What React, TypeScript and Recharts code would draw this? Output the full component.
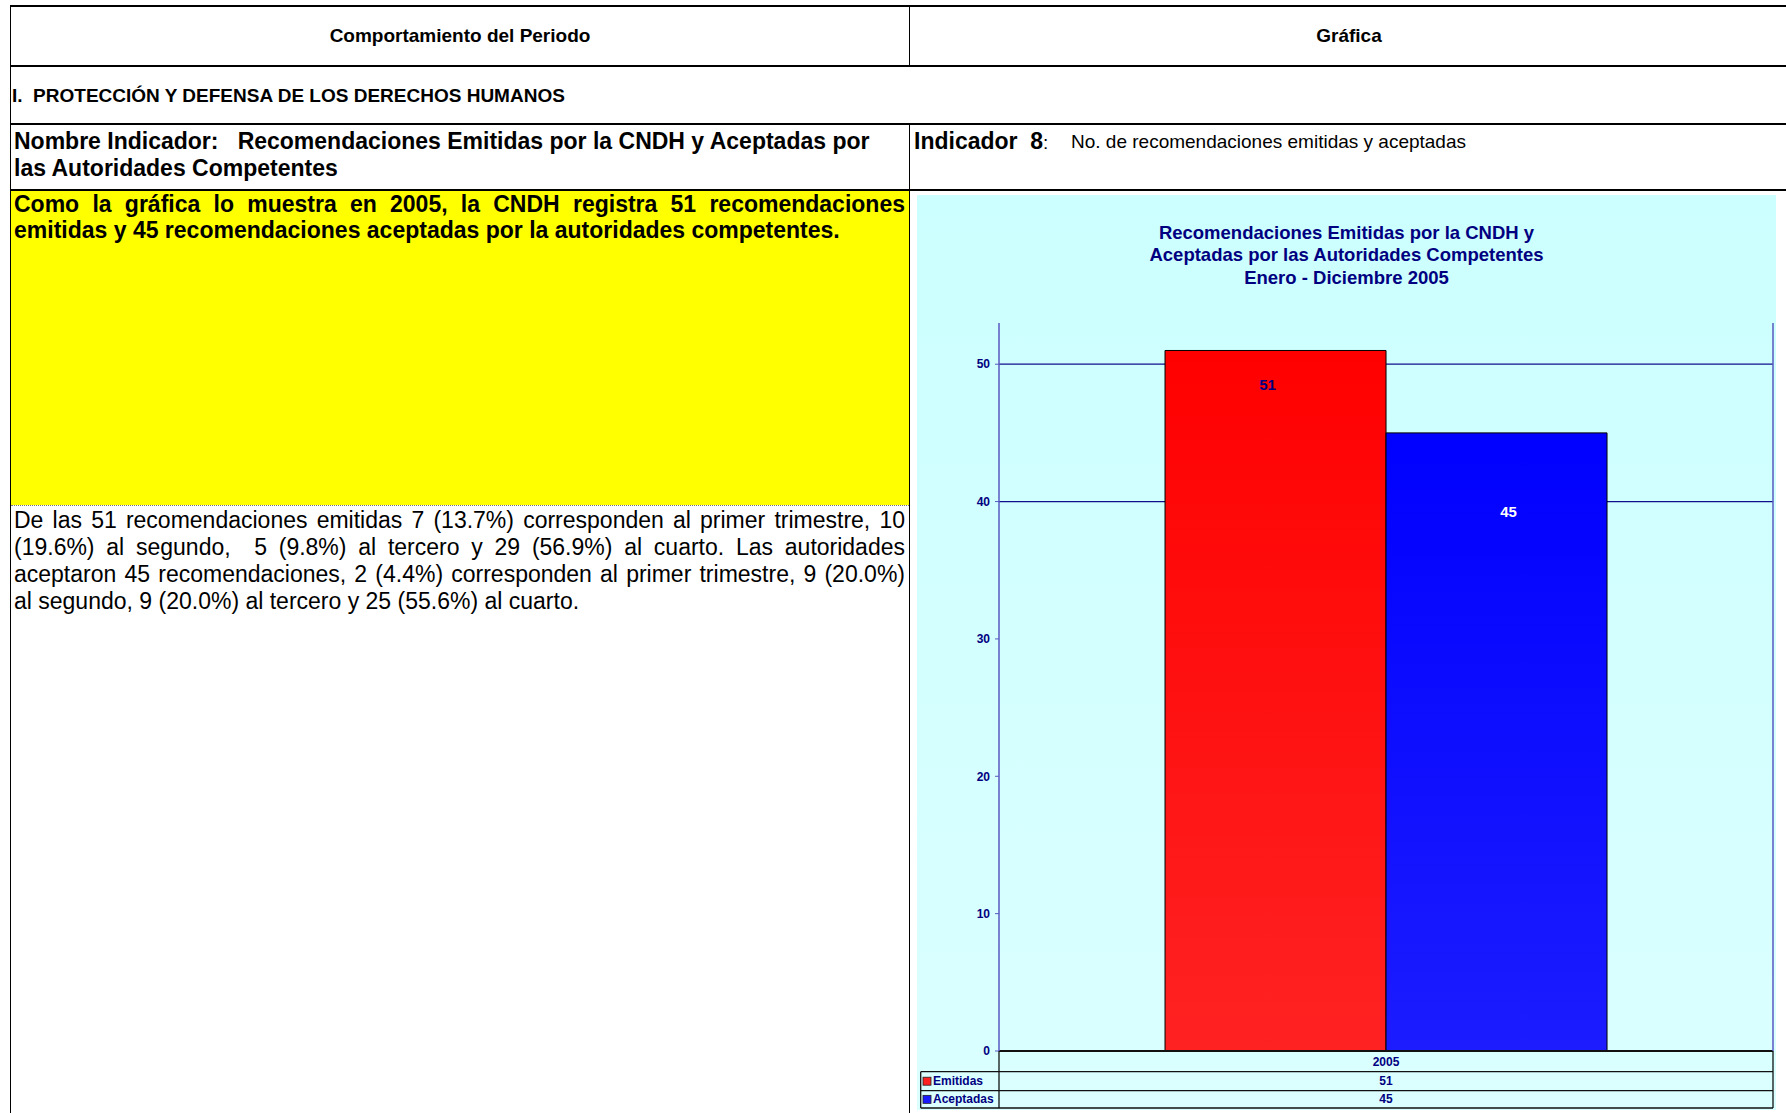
import React from 'react';
import { BarChart, Bar, XAxis, YAxis, CartesianGrid, LabelList } from 'recharts';

// values
const years = ['2005'];
const emitidas = [51];
const aceptadas = [45];
const seriesNames = ['Emitidas', 'Aceptadas'];
const yTicks = [0, 10, 20, 30, 40, 50];
const gridValues = [40, 50];

const data = years.map((year, i) => ({ year, emitidas: emitidas[i], aceptadas: aceptadas[i] }));

const NAVY = '#000080';
const FONT = "'Liberation Sans', Arial, sans-serif";

const CHART_W = 859;
const CHART_H = 915;
const PLOT_LEFT = 82;
const PLOT_RIGHT = CHART_W - 3;

// data table drawn under the x axis (as in the Excel chart)
function TableTick(props: any) {
  const { x, y, payload } = props;
  const rows = [
    { name: seriesNames[0], color: '#ff2020', values: emitidas },
    { name: seriesNames[1], color: '#1a1aff', values: aceptadas },
  ];
  const idx = years.indexOf(payload.value);
  const r1 = y + 20.7;
  const r2 = y + 39.7;
  const r3 = y + 57;
  const lineStyle = { stroke: '#111', strokeWidth: 1.3 };
  return (
    <g>
      <line x1={PLOT_LEFT} x2={PLOT_LEFT} y1={y} y2={r3} {...lineStyle} />
      <line x1={PLOT_RIGHT} x2={PLOT_RIGHT} y1={y} y2={r3} {...lineStyle} />
      <line x1={3.7} x2={3.7} y1={r1} y2={r3} {...lineStyle} />
      <line x1={3.7} x2={PLOT_RIGHT} y1={r1} y2={r1} {...lineStyle} />
      <line x1={3.7} x2={PLOT_RIGHT} y1={r2} y2={r2} {...lineStyle} />
      <line x1={3.7} x2={PLOT_RIGHT} y1={r3} y2={r3} {...lineStyle} />
      <text x={x} y={y + 10.5} textAnchor="middle" dominantBaseline="central"
        fill={NAVY} fontSize={12} fontWeight="bold">{payload.value}</text>
      {rows.map((row, i) => {
        const cy = i === 0 ? (r1 + r2) / 2 : (r2 + r3) / 2;
        return (
          <g key={row.name}>
            <rect x={6} y={cy - 4} width={8} height={8} fill={row.color} stroke="#222" strokeWidth={0.8} />
            <text x={16} y={cy} dominantBaseline="central" fill={NAVY} fontSize={12} fontWeight="bold">{row.name}</text>
            <text x={x} y={cy} textAnchor="middle" dominantBaseline="central"
              fill={NAVY} fontSize={12} fontWeight="bold">{row.values[idx]}</text>
          </g>
        );
      })}
    </g>
  );
}

function makeLabel(color: string, dx: number, dy: number) {
  return (p: any) => (
    <text x={p.x + p.width / 2 + dx} y={p.y + dy} textAnchor="middle" dominantBaseline="central"
      fill={color} fontSize={15} fontWeight="bold">{p.value}</text>
  );
}

function Chart() {
  return (
    <BarChart width={CHART_W} height={CHART_H} data={data}
      margin={{ top: 128, right: 0, left: 0, bottom: 2 }}
      barCategoryGap="21.45%" barGap={0}>
      <defs>
        <linearGradient id="gRed" x1="0" y1="0" x2="0" y2="1">
          <stop offset="0%" stopColor="#ff0000" />
          <stop offset="100%" stopColor="#ff2222" />
        </linearGradient>
        <linearGradient id="gBlue" x1="0" y1="0" x2="0" y2="1">
          <stop offset="0%" stopColor="#0000ff" />
          <stop offset="100%" stopColor="#1c1cff" />
        </linearGradient>
      </defs>
      <CartesianGrid vertical={false} horizontalValues={gridValues} stroke="#10108a" strokeWidth={1.3} />
      <XAxis dataKey="year" height={57} tickSize={0} tickMargin={0} tickLine={false}
        axisLine={{ stroke: '#111', strokeWidth: 2 }} tick={<TableTick />} />
      <YAxis width={PLOT_LEFT} domain={[0, 53]} ticks={yTicks} tickSize={4} tickMargin={5}
        axisLine={{ stroke: '#5858c0', strokeWidth: 1.5 }} tickLine={{ stroke: '#5858c0' }}
        tick={{ fill: NAVY, fontSize: 12, fontWeight: 'bold' }} />
      <YAxis yAxisId="r" orientation="right" width={3} domain={[0, 53]} tick={false} tickLine={false}
        axisLine={{ stroke: '#5858c0', strokeWidth: 1.5 }} />
      <Bar dataKey="emitidas" name={seriesNames[0]} fill="url(#gRed)" stroke="#000" strokeWidth={1}
        isAnimationActive={false}>
        <LabelList dataKey="emitidas" content={makeLabel(NAVY, -8, 34)} />
      </Bar>
      <Bar dataKey="aceptadas" name={seriesNames[1]} fill="url(#gBlue)" stroke="#000" strokeWidth={1}
        isAnimationActive={false}>
        <LabelList dataKey="aceptadas" content={makeLabel('#ffffff', 12, 79)} />
      </Bar>
    </BarChart>
  );
}

const abs = (s: React.CSSProperties): React.CSSProperties => ({ position: 'absolute', ...s });

const yellowLines = [
  'Como la gráfica lo muestra en 2005, la CNDH registra 51 recomendaciones',
  'emitidas y 45 recomendaciones aceptadas por la autoridades competentes.',
];
const bodyLines = [
  'De las 51 recomendaciones emitidas 7 (13.7%) corresponden al primer trimestre, 10',
  '(19.6%) al segundo,  5 (9.8%) al tercero y 29 (56.9%) al cuarto. Las autoridades',
  'aceptaron 45 recomendaciones, 2 (4.4%) corresponden al primer trimestre, 9 (20.0%)',
  'al segundo, 9 (20.0%) al tercero y 25 (55.6%) al cuarto.',
];

export default function App() {
  return (
    <div style={abs({ left: 0, top: 0, width: 1786, height: 1113, background: '#fff', overflow: 'hidden', fontFamily: FONT, color: '#000' })}>
      {/* table borders */}
      <div style={abs({ left: 9.5, top: 4.5, width: 1780, height: 2, background: '#000' })} />
      <div style={abs({ left: 9.5, top: 64.5, width: 1780, height: 2, background: '#000' })} />
      <div style={abs({ left: 9.5, top: 123, width: 1780, height: 2, background: '#000' })} />
      <div style={abs({ left: 9.5, top: 188.5, width: 1780, height: 2, background: '#000' })} />
      <div style={abs({ left: 9.5, top: 4.5, width: 1.6, height: 1110, background: '#000' })} />
      <div style={abs({ left: 908.5, top: 4.5, width: 1.6, height: 61, background: '#000' })} />
      <div style={abs({ left: 908.5, top: 123, width: 1.6, height: 1000, background: '#000' })} />

      {/* header row */}
      <div style={abs({ left: 11, top: 25, width: 898, textAlign: 'center', fontSize: 19, fontWeight: 'bold', lineHeight: '22px' })}>
        Comportamiento del Periodo
      </div>
      <div style={abs({ left: 910, top: 25, width: 878, textAlign: 'center', fontSize: 19, fontWeight: 'bold', lineHeight: '22px' })}>
        Gráfica
      </div>
      <div style={abs({ left: 12, top: 85, fontSize: 19, fontWeight: 'bold', lineHeight: '22px', whiteSpace: 'pre' })}>
        {'I.  PROTECCIÓN Y DEFENSA DE LOS DERECHOS HUMANOS'}
      </div>

      {/* indicator row */}
      <div style={abs({ left: 14, top: 127.5, fontSize: 23, fontWeight: 'bold', lineHeight: '27px', whiteSpace: 'pre' })}>
        {'Nombre Indicador:   Recomendaciones Emitidas por la CNDH y Aceptadas por\nlas Autoridades Competentes'}
      </div>
      <div style={abs({ left: 914, top: 127.5, lineHeight: '27px', whiteSpace: 'pre' })}>
        <span style={{ fontSize: 23, fontWeight: 'bold' }}>Indicador  8</span>
        <span style={{ fontSize: 19 }}>:</span>
      </div>
      <div style={abs({ left: 1071, top: 129.5, fontSize: 19, lineHeight: '24px', whiteSpace: 'pre' })}>
        No. de recomendaciones emitidas y aceptadas
      </div>

      {/* left column body */}
      <div style={abs({ left: 11, top: 190.5, width: 897.5, height: 314.5, background: '#ffff00' })} />
      <div style={abs({ left: 11, top: 505, width: 897.5, height: 0, borderTop: '1px dotted #777' })} />
      {yellowLines.map((t, i) => (
        <div key={i} style={abs({ left: 14, top: 190.5 + i * 26.5, width: 891, fontSize: 23, fontWeight: 'bold', lineHeight: '27px', whiteSpace: 'nowrap', textAlign: 'justify', textAlignLast: i < yellowLines.length - 1 ? 'justify' : 'left' })}>
          {t}
        </div>
      ))}
      {bodyLines.map((t, i) => (
        <div key={i} style={abs({ left: 14, top: 506.5 + i * 27, width: 891, fontSize: 23, lineHeight: '27px', whiteSpace: 'pre', textAlign: 'justify', textAlignLast: i < bodyLines.length - 1 ? 'justify' : 'left' })}>
          {t}
        </div>
      ))}

      {/* chart area */}
      <div style={abs({ left: 917, top: 195, width: CHART_W, height: CHART_H, background: 'linear-gradient(#ccffff, #dbffff)' })} />
      <div style={abs({ left: 917, top: 221.5, width: CHART_W, textAlign: 'center', color: NAVY, fontSize: 18.5, fontWeight: 'bold', lineHeight: '22.5px' })}>
        Recomendaciones Emitidas por la CNDH y<br />
        Aceptadas por las Autoridades Competentes<br />
        Enero - Diciembre 2005
      </div>
      <div style={abs({ left: 917, top: 195 })}>
        <Chart />
      </div>
    </div>
  );
}
